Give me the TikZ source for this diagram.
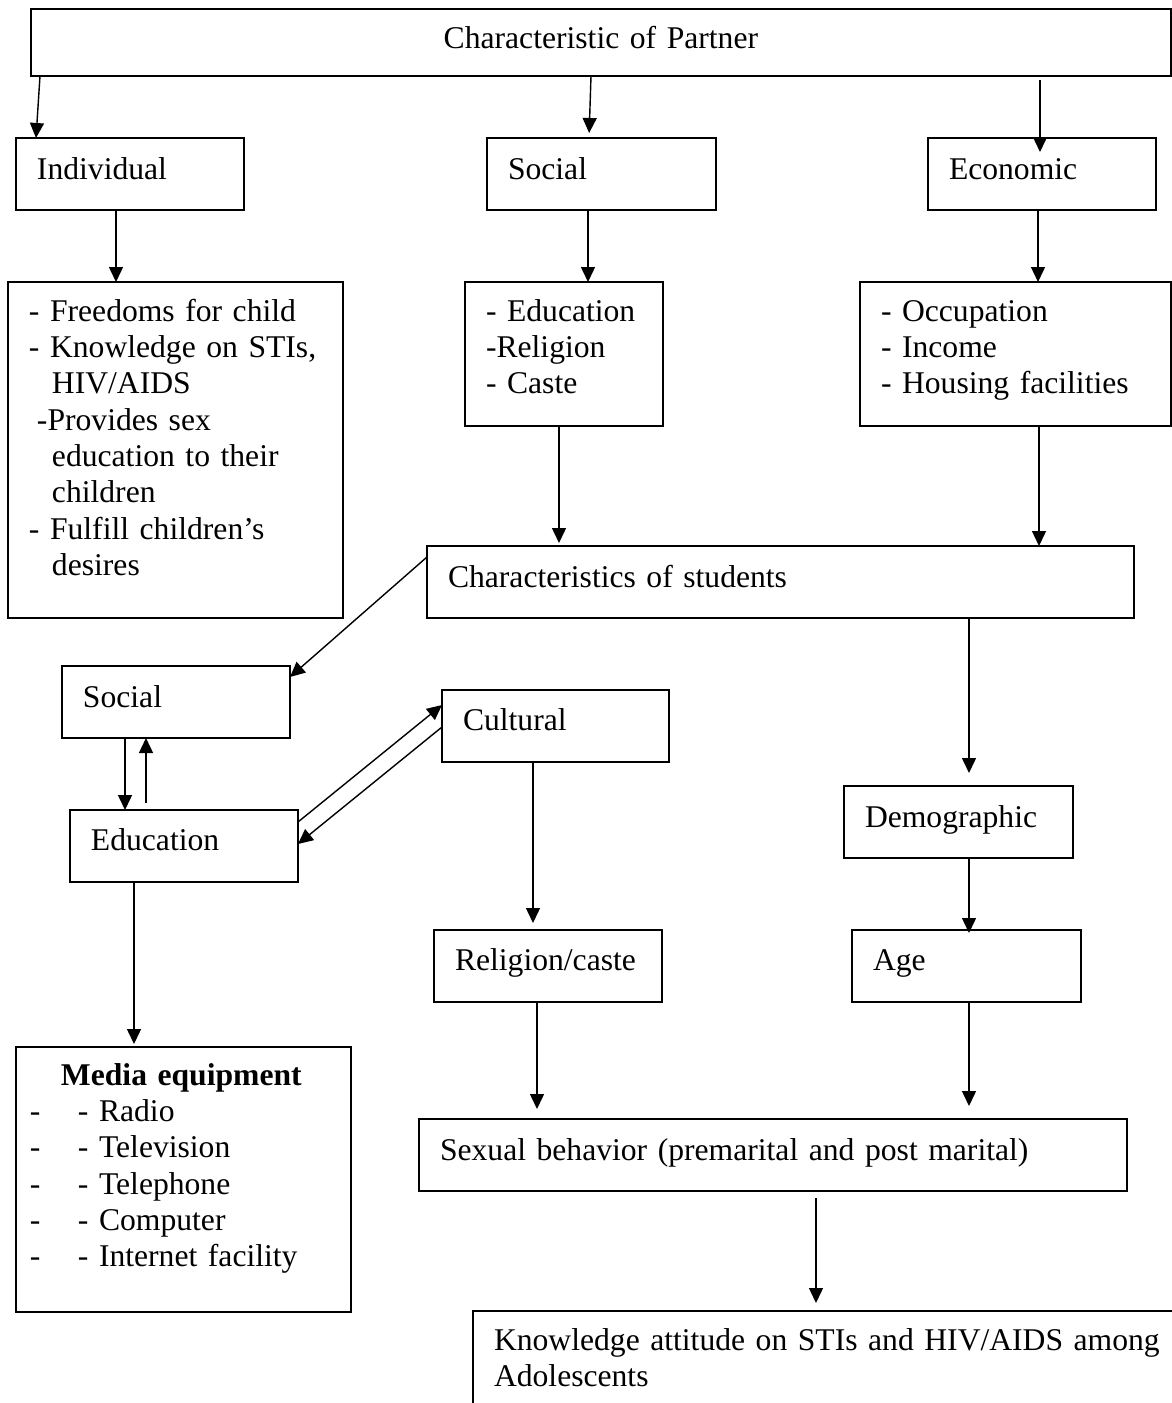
\documentclass[tikz,border=0pt]{standalone}
\usepackage{fontspec}
\setmainfont{Liberation Serif}
\usetikzlibrary{arrows.meta}
\tikzset{
  blk/.style  = {draw, line width=1.1pt, anchor=north west, inner xsep=0.42cm,
                 inner ysep=0pt, outer sep=0pt, align=left},
  link/.style = {-{Triangle[length=0.3cm, width=0.28cm]}, line width=0.8pt},
}

\begin{document}
\begin{tikzpicture}[x=0.02cm, y=-0.02cm, font=\fontsize{18pt}{20.7pt}\selectfont]
  \useasboundingbox (0,0) rectangle (1172,1403);
  % boxes: name / left / top / right / bottom / first baseline / text
  \foreach \nm/\xa/\ya/\xb/\yb/\yt/\txt in {
    indiv/16/138/244/210/179/{Individual},
    soc/487/138/716/210/179/{Social},
    econ/928/138/1156/210/179/{Economic},
    indlist/8/282/343/618/321/{- Freedoms for child\\- Knowledge on STIs,\\\hspace*{0.46cm}HIV/AIDS\\\hspace*{0.16cm}-Provides sex\\\hspace*{0.46cm}education to their\\\hspace*{0.46cm}children\\- Fulfill children's\\\hspace*{0.46cm}desires},
    soclist/465/282/663/426/321/{- Education\\-Religion\\- Caste},
    econlist/860/282/1171/426/321/{- Occupation\\- Income\\- Housing facilities},
    students/427/546/1134/618/587/{Characteristics of students},
    social/62/666/290/738/707/{Social},
    cult/442/690/669/762/730/{Cultural},
    edu/70/810/298/882/850/{Education},
    demog/844/786/1073/858/827/{Demographic},
    relig/434/930/662/1002/970/{Religion/caste},
    age/852/930/1081/1002/970/{Age},
    sexual/419/1119/1127/1191/1160/{Sexual behavior (premarital and post marital)},
    know/473/1311/1240/1440/1350/{Knowledge attitude on STIs and HIV/AIDS among\\Adolescents}
  }{
    \pgfmathsetmacro{\wid}{(\xb-\xa-42)*0.02}
    \pgfmathsetmacro{\hgt}{(\yt-\ya)*0.02}
    \pgfmathsetmacro{\dep}{(\yb-\yt)*0.02}
    \node[blk, text width=\wid cm, text height=\hgt cm, text depth=\dep cm] (\nm) at (\xa,\ya) {\txt};
  }
  \node[blk, align=center, text width=21.96cm, text height=0.8cm, text depth=0.54cm] (partner) at (31,9) {Characteristic of Partner};
  \node[blk, inner xsep=0.28cm, text width=6.14cm, text height=0.76cm, text depth=4.54cm] (media) at (16,1047)
    {\hspace*{0.62cm}\textbf{Media equipment}\\\makebox[0.96cm][l]{-}- Radio\\\makebox[0.96cm][l]{-}- Television\\
     \makebox[0.96cm][l]{-}- Telephone\\\makebox[0.96cm][l]{-}- Computer\\\makebox[0.96cm][l]{-}- Internet facility};

  % partner level
  \draw[link] (partner.south -| 40,0) -- (indiv.north -| 36,0);
  \draw[link, shorten >=0.1cm] (partner.south -| 591,0) -- (soc.north -| 589,0);
  \draw[link, shorten <=0.08cm, shorten >=-0.28cm] (partner.south -| 1040,0) -- (econ.north -| 1040,0);
  \draw[link] (indiv.south -| 116,0) -- (indlist.north -| 116,0);
  \draw[link] (soc.south -| 588,0) -- (soclist.north -| 588,0);
  \draw[link] (econ.south -| 1038,0) -- (econlist.north -| 1038,0);
  \draw[link, shorten >=0.06cm] (soclist.south -| 559,0) -- (students.north -| 559,0);
  \draw[link] (econlist.south -| 1039,0) -- (students.north -| 1039,0);

  % student level
  \draw[link] (students.west |- 0,557) -- (social.east |- 0,677);
  \draw[link, shorten >=0.26cm] (students.south -| 969,0) -- (demog.north -| 969,0);
  \draw[link] (social.south -| 125,0) -- (edu.north -| 125,0);
  \draw[link, shorten <=0.14cm] (edu.north -| 146,0) -- (social.south -| 146,0);
  \draw[link] (edu.east |- 0,822) -- (cult.west |- 0,705);
  \draw[link] (cult.west |- 0,727) -- (edu.east |- 0,844);
  \draw[link, shorten >=0.06cm] (edu.south -| 134,0) -- (media.north -| 134,0);
  \draw[link, shorten >=0.14cm] (cult.south -| 533,0) -- (relig.north -| 533,0);
  \draw[link, shorten >=-0.06cm] (demog.south -| 969,0) -- (age.north -| 969,0);
  \draw[link, shorten >=0.2cm] (relig.south -| 537,0) -- (sexual.north -| 537,0);
  \draw[link, shorten >=0.26cm] (age.south -| 969,0) -- (sexual.north -| 969,0);
  \draw[link, shorten <=0.14cm, shorten >=0.16cm] (sexual.south -| 816,0) -- (know.north -| 816,0);
\end{tikzpicture}
\end{document}
